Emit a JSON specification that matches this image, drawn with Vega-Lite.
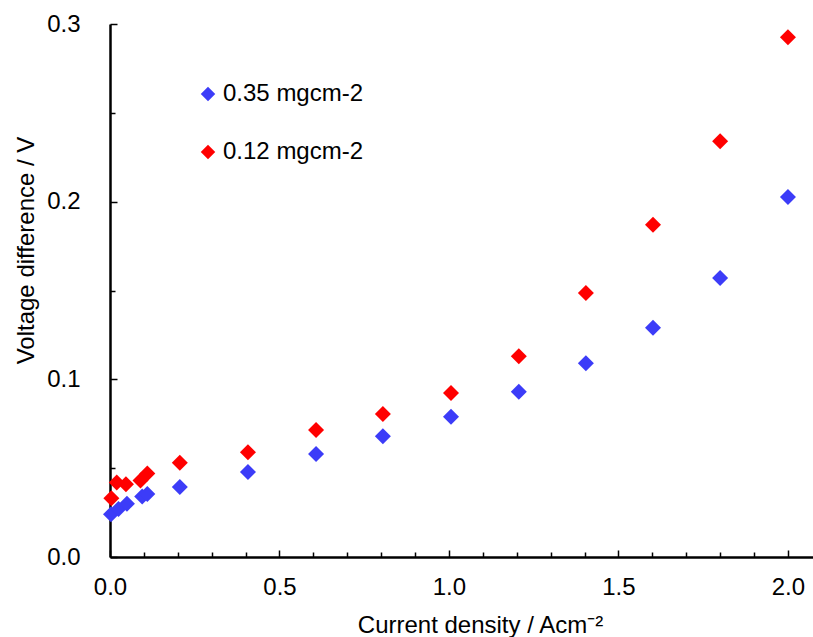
{
  "$schema": "https://vega.github.io/schema/vega-lite/v6.json",
  "width": 703,
  "height": 533,
  "autosize": {"type": "none"},
  "padding": {"left": 110, "top": 24, "right": 0, "bottom": 80},
  "background": "white",
  "config": {
    "view": {"stroke": null},
    "font": "Liberation Sans",
    "axis": {"labelFont": "Liberation Sans", "titleFont": "Liberation Sans", "labelColor": "black", "titleColor": "black", "titleFontWeight": "normal", "domainColor": "black", "tickColor": "black", "labelFontSize": 24, "titleFontSize": 24, "domainWidth": 2.5, "tickWidth": 1.5, "grid": false}
  },
  "datasets": {
    "pts": [
      {"series": "0.35 mgcm-2", "j": 0.003, "v": 0.024},
      {"series": "0.35 mgcm-2", "j": 0.025, "v": 0.027},
      {"series": "0.35 mgcm-2", "j": 0.05, "v": 0.030},
      {"series": "0.35 mgcm-2", "j": 0.095, "v": 0.034},
      {"series": "0.35 mgcm-2", "j": 0.11, "v": 0.0355},
      {"series": "0.35 mgcm-2", "j": 0.206, "v": 0.0394},
      {"series": "0.35 mgcm-2", "j": 0.407, "v": 0.0478},
      {"series": "0.35 mgcm-2", "j": 0.608, "v": 0.058},
      {"series": "0.35 mgcm-2", "j": 0.805, "v": 0.068},
      {"series": "0.35 mgcm-2", "j": 1.006, "v": 0.079},
      {"series": "0.35 mgcm-2", "j": 1.206, "v": 0.093},
      {"series": "0.35 mgcm-2", "j": 1.404, "v": 0.109},
      {"series": "0.35 mgcm-2", "j": 1.602, "v": 0.129},
      {"series": "0.35 mgcm-2", "j": 1.800, "v": 0.157},
      {"series": "0.35 mgcm-2", "j": 2.000, "v": 0.2026},
      {"series": "0.12 mgcm-2", "j": 0.004, "v": 0.033},
      {"series": "0.12 mgcm-2", "j": 0.02, "v": 0.042},
      {"series": "0.12 mgcm-2", "j": 0.047, "v": 0.041},
      {"series": "0.12 mgcm-2", "j": 0.09, "v": 0.043},
      {"series": "0.12 mgcm-2", "j": 0.11, "v": 0.047},
      {"series": "0.12 mgcm-2", "j": 0.206, "v": 0.053},
      {"series": "0.12 mgcm-2", "j": 0.407, "v": 0.059},
      {"series": "0.12 mgcm-2", "j": 0.608, "v": 0.0715},
      {"series": "0.12 mgcm-2", "j": 0.805, "v": 0.0805},
      {"series": "0.12 mgcm-2", "j": 1.006, "v": 0.0923},
      {"series": "0.12 mgcm-2", "j": 1.206, "v": 0.113},
      {"series": "0.12 mgcm-2", "j": 1.404, "v": 0.1486},
      {"series": "0.12 mgcm-2", "j": 1.602, "v": 0.187},
      {"series": "0.12 mgcm-2", "j": 1.800, "v": 0.234},
      {"series": "0.12 mgcm-2", "j": 2.000, "v": 0.2926}
    ]
  },
  "layer": [
    {
      "data": {"name": "pts"},
      "mark": {"type": "point", "shape": "diamond", "filled": true, "opacity": 1, "size": 256, "strokeWidth": 0},
      "encoding": {
        "x": {
          "field": "j", "type": "quantitative",
          "scale": {"domain": [0, 2.074], "nice": false, "zero": false},
          "axis": {
            "title": "Current density / Acm⁻²",
            "values": [0, 0.1, 0.2, 0.3, 0.4, 0.5, 0.6, 0.7, 0.8, 0.9, 1.0, 1.1, 1.2, 1.3, 1.4, 1.5, 1.6, 1.7, 1.8, 1.9, 2.0],
            "labelExpr": "abs(datum.value*2 - round(datum.value*2)) < 0.001 ? format(datum.value, '.1f') : ''",
            "tickSize": {"condition": {"test": "abs(datum.value*2 - round(datum.value*2)) < 0.001", "value": -7}, "value": -5},
            "labelBaseline": "alphabetic",
            "labelPadding": 44,
            "titleBaseline": "alphabetic",
            "titleX": 370,
            "titleY": 75,
            "titleAnchor": "middle",
            "titleAlign": "center",
            "labelFlush": false
          }
        },
        "y": {
          "field": "v", "type": "quantitative",
          "scale": {"domain": [0, 0.3], "nice": false},
          "axis": {
            "title": "Voltage difference / V",
            "values": [0, 0.05, 0.1, 0.15, 0.2, 0.25, 0.3],
            "labelExpr": "abs(datum.value*10 - round(datum.value*10)) < 0.001 ? format(datum.value, '.1f') : ''",
            "tickSize": {"condition": {"test": "abs(datum.value*10 - round(datum.value*10)) < 0.001", "value": -7}, "value": -5},
            "labelPadding": 37,
            "titleBaseline": "alphabetic",
            "titleAngle": -90,
            "titleAlign": "center",
            "titleX": -77,
            "titleY": 226,
            "labelFlush": false
          }
        },
        "color": {
          "field": "series", "type": "nominal",
          "scale": {"domain": ["0.35 mgcm-2", "0.12 mgcm-2"], "range": ["#3c3cf8", "#ff0000"]},
          "legend": {
            "title": null, "orient": "none", "legendX": 86, "legendY": 58,
            "symbolType": "diamond", "symbolSize": 210, "symbolStrokeWidth": 0,
            "labelFontSize": 24, "labelFont": "Liberation Sans", "labelColor": "black",
            "rowPadding": 34, "labelOffset": 3, "padding": 0
          }
        }
      }
    },
    {
      "mark": {"type": "rule", "color": "black", "strokeWidth": 2.5},
      "encoding": {"y": {"datum": 0.3, "type": "quantitative"}}
    }
  ]
}
